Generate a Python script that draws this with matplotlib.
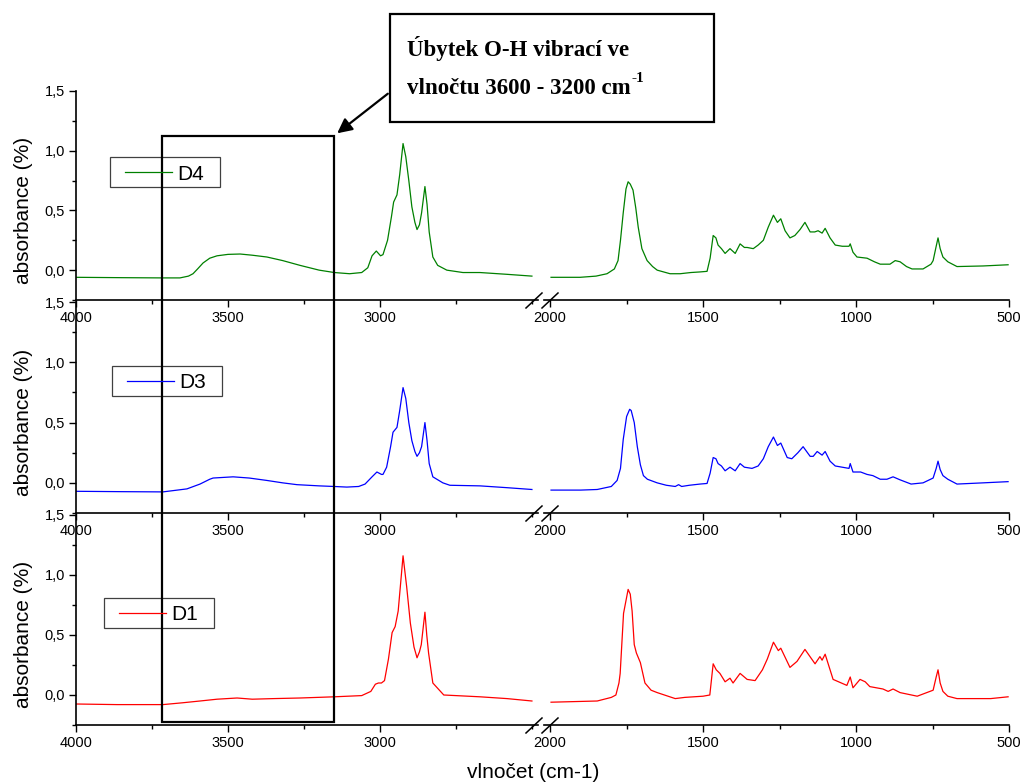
import matplotlib
matplotlib.use("Agg")
import matplotlib.pyplot as plt
from matplotlib.patches import Rectangle, FancyArrowPatch
from matplotlib.lines import Line2D
from matplotlib.ticker import MultipleLocator, FuncFormatter

plt.rcParams['font.family'] = ['Liberation Sans', 'DejaVu Sans']

# ---- data (wavenumber cm-1, absorbance) ----
d4_wn_left = [4000, 3850, 3717, 3658, 3630, 3615, 3600, 3582, 3560, 3536, 3500, 3460, 3420, 3372,
              3320, 3263, 3200, 3150, 3100, 3060, 3040, 3026, 3012, 2998, 2990, 2975, 2962, 2955,
              2944, 2935, 2924, 2915, 2905, 2895, 2885, 2878, 2870, 2863, 2852, 2845, 2838, 2826,
              2810, 2780, 2727, 2671, 2582, 2500]
d4_abs_left = [-0.06, -0.063, -0.065, -0.065, -0.05, -0.03, 0.01, 0.06, 0.10, 0.12, 0.132, 0.135,
               0.125, 0.11, 0.08, 0.04, 0.0, -0.02, -0.03, -0.02, 0.02, 0.12, 0.16, 0.12, 0.13, 0.25,
               0.45, 0.57, 0.63, 0.80, 1.06, 0.95, 0.75, 0.53, 0.40, 0.34, 0.38, 0.48, 0.70, 0.55,
               0.32, 0.11, 0.04, 0.0, -0.02, -0.02, -0.035, -0.05]
d4_wn_right = [1997, 1902, 1850, 1814, 1790, 1778, 1770, 1761, 1752, 1745, 1738, 1729, 1720, 1712,
               1700, 1683, 1665, 1650, 1608, 1575, 1540, 1510, 1487, 1477, 1467, 1458, 1451, 1440,
               1428, 1412, 1395, 1379, 1365, 1356, 1336, 1320, 1303, 1287, 1270, 1257, 1246, 1232,
               1216, 1200, 1183, 1167, 1150, 1135, 1124, 1111, 1101, 1085, 1068, 1045, 1023, 1019,
               1010, 997, 964, 940, 921, 889, 872, 856, 835, 817, 781, 755, 748, 738, 732, 725, 716,
               700, 670, 585, 503]
d4_abs_right = [-0.06, -0.06, -0.05, -0.03, 0.01, 0.08, 0.25, 0.48, 0.68, 0.74, 0.72, 0.67, 0.52,
                0.36, 0.18, 0.08, 0.03, 0.0, -0.03, -0.03, -0.02, -0.015, -0.01, 0.10, 0.29, 0.27,
                0.21, 0.18, 0.14, 0.18, 0.14, 0.22, 0.19, 0.19, 0.18, 0.21, 0.25, 0.36, 0.46, 0.40,
                0.43, 0.33, 0.27, 0.29, 0.34, 0.40, 0.32, 0.32, 0.33, 0.31, 0.35, 0.27, 0.21, 0.20,
                0.20, 0.22, 0.15, 0.11, 0.10, 0.07, 0.05, 0.05, 0.08, 0.07, 0.03, 0.01, 0.01, 0.05,
                0.08, 0.20, 0.27, 0.18, 0.11, 0.07, 0.03, 0.035, 0.045]

d3_wn_left = [4000, 3850, 3714, 3635, 3592, 3560, 3549, 3483, 3430, 3372, 3320, 3273, 3200, 3151,
              3109, 3070, 3049, 3026, 3010, 2995, 2990, 2978, 2965, 2957, 2944, 2935, 2924, 2915,
              2905, 2895, 2885, 2878, 2870, 2863, 2852, 2845, 2838, 2826, 2793, 2770, 2671, 2582, 2500]
d3_abs_left = [-0.07, -0.073, -0.075, -0.05, -0.01, 0.03, 0.04, 0.05, 0.04, 0.02, 0.0, -0.015,
               -0.025, -0.03, -0.035, -0.03, -0.01, 0.05, 0.09, 0.07, 0.07, 0.13, 0.30, 0.42, 0.46,
               0.60, 0.79, 0.70, 0.50, 0.35, 0.26, 0.22, 0.25, 0.30, 0.50, 0.35, 0.16, 0.05, 0.0,
               -0.02, -0.025, -0.04, -0.055]
d3_wn_right = [1997, 1900, 1846, 1800, 1781, 1770, 1761, 1750, 1740, 1735, 1725, 1715, 1705, 1695,
               1682, 1650, 1620, 1591, 1580, 1570, 1545, 1510, 1487, 1477, 1467, 1458, 1451, 1440,
               1428, 1412, 1395, 1379, 1365, 1340, 1320, 1303, 1287, 1270, 1257, 1246, 1225, 1210,
               1190, 1173, 1150, 1140, 1127, 1111, 1101, 1085, 1068, 1023, 1019, 1010, 985, 964, 945,
               921, 899, 879, 856, 820, 781, 748, 738, 732, 725, 716, 700, 670, 585, 503]
d3_abs_right = [-0.06, -0.06, -0.055, -0.03, 0.02, 0.12, 0.36, 0.55, 0.61, 0.60, 0.50, 0.30, 0.15,
                0.06, 0.03, 0.0, -0.02, -0.03, -0.015, -0.03, -0.02, -0.01, -0.005, 0.08, 0.21, 0.20,
                0.16, 0.14, 0.10, 0.13, 0.10, 0.16, 0.13, 0.12, 0.14, 0.20, 0.30, 0.38, 0.31, 0.33,
                0.21, 0.20, 0.25, 0.30, 0.22, 0.22, 0.26, 0.23, 0.26, 0.18, 0.14, 0.12, 0.16, 0.09,
                0.09, 0.07, 0.06, 0.03, 0.03, 0.05, 0.025, -0.01, 0.0, 0.04, 0.12, 0.18, 0.11, 0.06,
                0.03, -0.01, 0.0, 0.01]

d1_wn_left = [4000, 3865, 3714, 3650, 3592, 3536, 3470, 3420, 3350, 3263, 3150, 3060, 3030, 3015,
              3005, 2995, 2985, 2972, 2960, 2950, 2940, 2924, 2912, 2900, 2888, 2878, 2870, 2864,
              2852, 2846, 2840, 2826, 2790, 2671, 2582, 2500]
d1_abs_left = [-0.075, -0.08, -0.08, -0.065, -0.05, -0.035, -0.025, -0.035, -0.03, -0.025, -0.015,
               -0.005, 0.03, 0.09, 0.10, 0.10, 0.12, 0.30, 0.52, 0.57, 0.70, 1.16, 0.90, 0.60, 0.40,
               0.31, 0.36, 0.42, 0.69, 0.50, 0.35, 0.10, 0.0, -0.015, -0.03, -0.05]
d1_wn_right = [1997, 1846, 1800, 1785, 1775, 1771, 1760, 1745, 1738, 1732, 1725, 1718, 1705, 1690,
               1670, 1650, 1591, 1560, 1530, 1500, 1478, 1467, 1457, 1445, 1428, 1412, 1402, 1379,
               1356, 1330, 1306, 1290, 1270, 1254, 1246, 1216, 1193, 1167, 1134, 1118, 1111, 1101,
               1075, 1030, 1019, 1010, 987, 970, 955, 912, 895, 879, 856, 800, 748, 738, 732, 725,
               716, 700, 670, 560, 503]
d1_abs_right = [-0.06, -0.05, -0.02, 0.0, 0.10, 0.18, 0.68, 0.88, 0.84, 0.70, 0.42, 0.35, 0.27,
                0.10, 0.04, 0.02, -0.03, -0.02, -0.015, -0.01, 0.0, 0.26, 0.21, 0.18, 0.11, 0.14,
                0.10, 0.18, 0.13, 0.12, 0.21, 0.30, 0.44, 0.37, 0.39, 0.23, 0.28, 0.38, 0.26, 0.32,
                0.29, 0.34, 0.13, 0.08, 0.15, 0.06, 0.13, 0.11, 0.07, 0.05, 0.03, 0.05, 0.02, -0.01,
                0.04, 0.15, 0.21, 0.10, 0.03, -0.01, -0.03, -0.03, -0.015]

names = ['D4', 'D3', 'D1']
colors = ['#008000', '#0000ff', '#ff0000']
wn_left = [d4_wn_left, d3_wn_left, d1_wn_left]
abs_left = [d4_abs_left, d3_abs_left, d1_abs_left]
wn_right = [d4_wn_right, d3_wn_right, d1_wn_right]
abs_right = [d4_abs_right, d3_abs_right, d1_abs_right]
x_ticks_left = [4000, 3500, 3000]
x_ticks_right = [2000, 1500, 1000, 500]

W, H = 1023, 783
fig = plt.figure(figsize=(W / 100, H / 100), dpi=100)


def fx(x):
    return x / W


def fy(y):
    return 1 - y / H


# panel geometry in pixels (bottom spine, top of y axis) and legend corner
panel_bottom = [300, 513, 725]
panel_top = [91, 302, 515]
legend_corner = [(110, 157), (112, 366), (104, 598)]

comma = FuncFormatter(lambda v, p: ('%.1f' % v).replace('.', ','))

for i in range(3):
    b, t = panel_bottom[i], panel_top[i]
    axL = fig.add_axes([fx(76), fy(b), fx(462), (b - t) / H])
    axR = fig.add_axes([fx(544), fy(b), fx(465), (b - t) / H], sharey=axL)
    axL.plot(wn_left[i], abs_left[i], color=colors[i], lw=0.9)
    axR.plot(wn_right[i], abs_right[i], color=colors[i], lw=0.9)
    axL.set_xlim(4000, 2480)
    axR.set_xlim(2020, 500)
    axL.set_ylim(-0.25, 1.5)
    for ax in (axL, axR):
        ax.spines['top'].set_visible(False)
        ax.spines['right'].set_visible(False)
        ax.spines['bottom'].set_linewidth(1.2)
        ax.patch.set_alpha(0)
        ax.tick_params(direction='out', which='major', length=5, width=1, labelsize=10.5, pad=3)
        ax.tick_params(direction='out', which='minor', length=3, width=1)
        ax.xaxis.set_minor_locator(MultipleLocator(250))
    axL.spines['left'].set_linewidth(1.2)
    axR.spines['left'].set_visible(False)
    axR.tick_params(axis='y', which='both', left=False, labelleft=False)
    axL.set_xticks(x_ticks_left)
    axR.set_xticks(x_ticks_right)
    axL.yaxis.set_major_locator(MultipleLocator(0.5))
    axL.yaxis.set_minor_locator(MultipleLocator(0.25))
    axL.yaxis.set_major_formatter(comma)
    axL.set_ylabel('absorbance (%)', fontsize=15)
    axL.yaxis.set_label_coords(-0.094, 0.43)

    # legend box drawn like the Origin one
    lx, ly = legend_corner[i]
    fig.add_artist(Rectangle((fx(lx), fy(ly + 30)), fx(110), 30 / H, fill=False,
                             edgecolor='#404040', lw=0.9, transform=fig.transFigure))
    fig.add_artist(Line2D([fx(lx + 15), fx(lx + 62)], [fy(ly + 15)] * 2, color=colors[i],
                          lw=0.9, transform=fig.transFigure))
    fig.text(fx(lx + 67), fy(ly + 15), names[i], fontsize=15, va='center_baseline')

    # break marks on the x axis
    for x0 in (526, 542):
        fig.add_artist(Line2D([fx(x0), fx(x0 + 16)], [fy(b + 8), fy(b - 7)],
                              color='black', lw=1.1, transform=fig.transFigure))

fig.text(fx(533), fy(773), 'vlnočet (cm-1)', fontsize=15, ha='center', va='center')

# highlighted region and annotation box
fig.add_artist(Rectangle((fx(162), fy(722)), fx(172), 586 / H, fill=False,
                         edgecolor='black', lw=1.6, transform=fig.transFigure))
fig.add_artist(Rectangle((fx(390), fy(122)), fx(324), 108 / H, fill=False,
                         edgecolor='black', lw=1.6, transform=fig.transFigure))
fig.text(fx(407), fy(56), 'Úbytek O-H vibrací ve', fontsize=16.5, fontweight='bold',
         family='Liberation Serif', va='baseline')
t2 = fig.text(fx(407), fy(94), 'vlnočtu 3600 - 3200 cm', fontsize=16.5,
              fontweight='bold', family='Liberation Serif', va='baseline')
renderer = fig.canvas.get_renderer()
x_end = t2.get_window_extent(renderer).x1
fig.text(x_end / W + fx(1), fy(82), '-1', fontsize=11, fontweight='bold',
         family='Liberation Serif', va='baseline')
fig.add_artist(FancyArrowPatch((fx(390), fy(92)), (fx(335), fy(135)),
                               transform=fig.transFigure, arrowstyle='-|>',
                               mutation_scale=22, lw=1.6, color='black'))

plt.savefig('out.png', dpi=100)
